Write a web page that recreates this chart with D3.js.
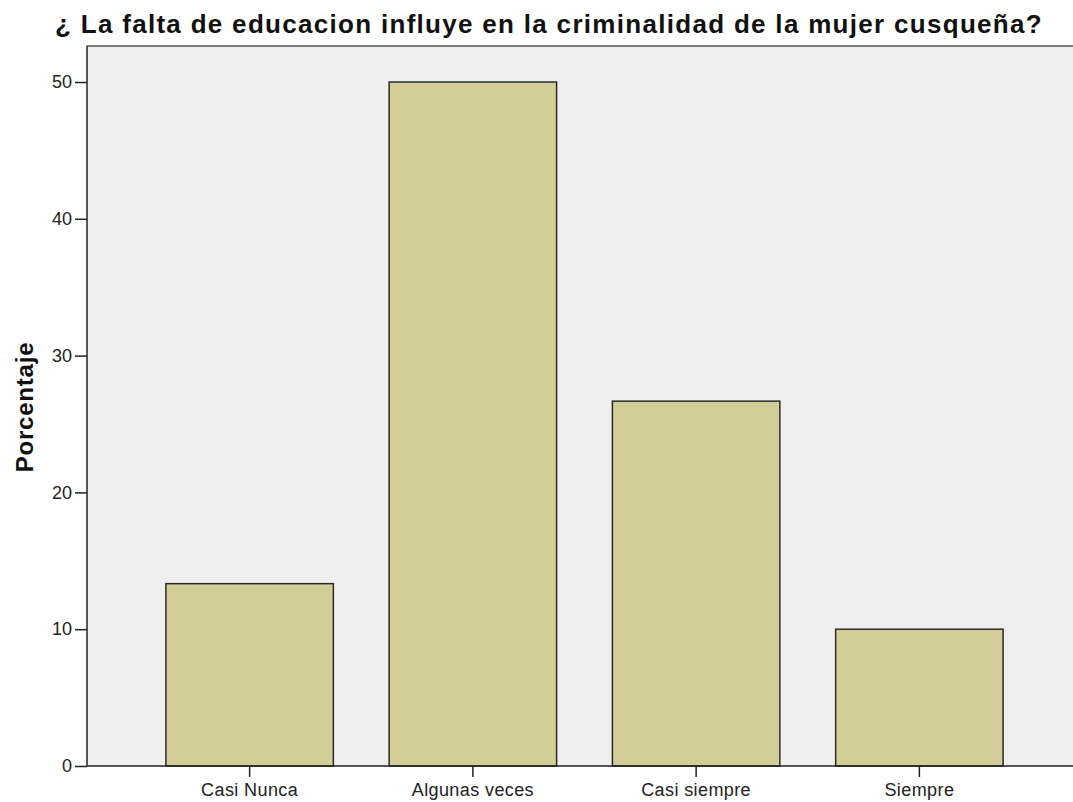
<!DOCTYPE html>
<html>
<head>
<meta charset="utf-8">
<script src="https://cdn.jsdelivr.net/npm/d3@7"></script>
<style>
  body { margin: 0; background: #fff; }
  svg { display: block; font-family: "Liberation Sans", Arial, sans-serif; }
</style>
</head>
<body>
<svg id="chart" width="1073" height="802"></svg>
<script>
// data
var categories = ["Casi Nunca", "Algunas veces", "Casi siempre", "Siempre"];
var percents = [13.33, 50.0, 26.67, 10.0];
var yTicks = [0, 10, 20, 30, 40, 50];

var svg = d3.select("#chart"),
    plotLeft = 87, plotRight = 1073, plotTop = 46, plotBottom = 766;

// plot background
svg.append("rect")
    .attr("x", plotLeft).attr("y", plotTop)
    .attr("width", plotRight - plotLeft).attr("height", plotBottom - plotTop)
    .attr("fill", "#efefef");

svg.append("line")
    .attr("x1", plotLeft).attr("x2", plotRight)
    .attr("y1", plotTop).attr("y2", plotTop)
    .attr("stroke", "#555").attr("stroke-width", 1.5);

var x = d3.scaleBand()
    .domain(categories)
    .range([138, 1031])
    .paddingInner(0.25)
    .paddingOuter(0.125);

var y = d3.scaleLinear()
    .domain([0, 50])
    .range([plotBottom, 82]);

svg.selectAll("rect.bar")
    .data(percents)
    .enter().append("rect")
    .attr("class", "bar")
    .attr("x", function (d, i) { return x(categories[i]); })
    .attr("y", function (d) { return y(d); })
    .attr("width", x.bandwidth())
    .attr("height", function (d) { return plotBottom - y(d); })
    .attr("fill", "#d3ce97")
    .attr("stroke", "#2a2a2a")
    .attr("stroke-width", 1.5);

// y axis
var yAxis = svg.append("g")
    .attr("transform", "translate(" + plotLeft + ",0)")
    .call(d3.axisLeft(y).tickValues(yTicks).tickSize(12).tickPadding(3).tickFormat(d3.format("d")));
yAxis.select(".domain").attr("stroke", "#222").attr("stroke-width", 1.5)
    .attr("d", "M0," + plotTop + "V" + plotBottom);
yAxis.selectAll(".tick line").attr("stroke", "#222").attr("stroke-width", 1.5);
yAxis.selectAll(".tick text")
    .style("font-size", "18px")
    .style("font-family", "Liberation Sans, Arial, sans-serif")
    .attr("fill", "#222");

// x axis
var xAxis = svg.append("g")
    .attr("transform", "translate(0," + plotBottom + ")")
    .call(d3.axisBottom(x).tickSize(11).tickPadding(6));
xAxis.select(".domain").attr("stroke", "#222").attr("stroke-width", 1.5)
    .attr("d", "M" + plotLeft + ",0H" + plotRight);
xAxis.selectAll(".tick line").attr("stroke", "#222").attr("stroke-width", 1.5);
xAxis.selectAll(".tick text")
    .style("font-size", "18px")
    .style("letter-spacing", "0.4px")
    .style("font-family", "Liberation Sans, Arial, sans-serif")
    .attr("fill", "#222");

// title
svg.append("text")
    .attr("x", 55).attr("y", 33)
    .style("font-size", "26px")
    .style("font-weight", "bold")
    .style("letter-spacing", "1.3px")
    .attr("fill", "#111")
    .text("¿ La falta de educacion influye en la criminalidad de la mujer cusqueña?");

// y label
svg.append("text")
    .attr("transform", "translate(33,407) rotate(-90)")
    .attr("text-anchor", "middle")
    .style("font-size", "24px")
    .style("font-weight", "bold")
    .style("letter-spacing", "0.8px")
    .attr("fill", "#111")
    .text("Porcentaje");
</script>
</body>
</html>
